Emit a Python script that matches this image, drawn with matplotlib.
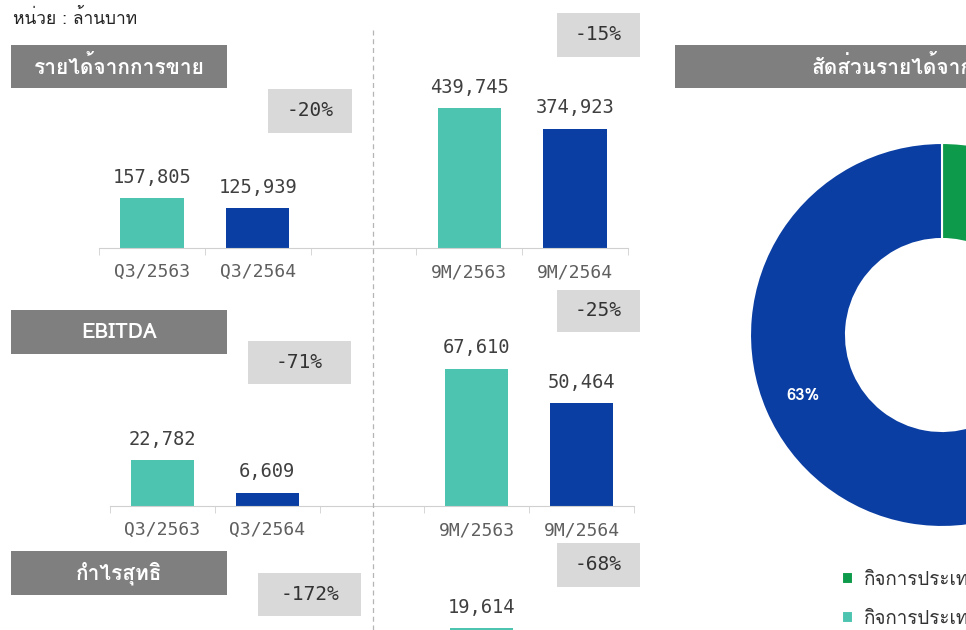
import numpy as np
import matplotlib
matplotlib.use('Agg')
import matplotlib.pyplot as plt
from matplotlib import font_manager
from matplotlib.ft2font import FT2Font
from matplotlib.patches import Rectangle
from matplotlib.lines import Line2D

# data
periods = ['Q3/2563', 'Q3/2564', '9M/2563', '9M/2564']
revenue = [157805, 125939, 439745, 374923]
ebitda = [22782, 6609, 67610, 50464]
net_profit = [5180, -3730, 19614, 6276]
row_titles = ['รายได้จากการขาย', 'EBITDA', 'กำไรสุทธิ']
change_q3 = ['-20%', '-71%', '-172%']
change_9m = ['-15%', '-25%', '-68%']

share_labels = ['กิจการประเทศไทย', 'กิจการประเทศจีน', 'กิจการต่างประเทศอื่นๆ']
share_values = [25, 12, 63]

TEAL = '#4cc4b0'
BLUE = '#0a3ea3'
GREEN = '#0d9a4a'
BAR_GRAY = '#7f7f7f'
BOX_GRAY = '#d9d9d9'


def thai_font():
    # pick the first installed font that has Thai glyphs
    for f in font_manager.fontManager.ttflist:
        try:
            if 0x0E01 in FT2Font(f.fname).get_charmap():
                return f.name
        except Exception:
            pass
    return 'DejaVu Sans'


THAI = [thai_font(), 'DejaVu Sans']
plt.rcParams['font.family'] = THAI

W, H = 966, 630
fig = plt.figure(figsize=(W / 100, H / 100), dpi=100)


def px_axes(x0, y0, x1, y1):
    return fig.add_axes([x0 / W, 1 - y1 / H, (x1 - x0) / W, (y1 - y0) / H])


def px_box(x0, y0, x1, y1, fill, text, **kw):
    fig.add_artist(Rectangle((x0 / W, 1 - y1 / H), (x1 - x0) / W, (y1 - y0) / H,
                             transform=fig.transFigure, color=fill, lw=0))
    fig.text((x0 + x1) / 2 / W, 1 - (y0 + y1) / 2 / H, text,
             ha='center', va='center', **kw)


# layout (pixels)
slots = [0, 1, 3, 4]
row_axes = [(99, 60, 628, 248), (110, 318, 634, 506), (115, 580, 639, 822)]
row_ylim = [(0, 590000), (0, 92450), (-8000, 26400)]
title_boxes = [(11, 45, 227, 88), (11, 310, 227, 354), (11, 551, 227, 595)]
q3_boxes = [(268, 89, 352, 133), (248, 341, 351, 384), (258, 573, 361, 616)]
m9_boxes = [(557, 13, 640, 57), (557, 290, 640, 332), (557, 543, 640, 587)]

for i, vals in enumerate([revenue, ebitda, net_profit]):
    ax = px_axes(*row_axes[i])
    ax.patch.set_alpha(0)
    bars = ax.bar(slots, vals, width=0.6, color=[TEAL, BLUE, TEAL, BLUE])
    ax.bar_label(bars, labels=[f'{v:,}' for v in vals], padding=8,
                 fontsize=13.5, color='#404040', family='DejaVu Sans Mono')
    ax.set_xlim(-0.5, 4.5)
    ax.set_ylim(*row_ylim[i])
    for s in ['top', 'right', 'left']:
        ax.spines[s].set_visible(False)
    ax.spines['bottom'].set_position(('data', 0))
    ax.spines['bottom'].set_color('#d0d0d0')
    ax.set_yticks([])
    ax.set_xticks(slots)
    ax.set_xticklabels(periods, family='DejaVu Sans Mono')
    ax.tick_params(axis='x', length=0, pad=11, labelsize=13, labelcolor='#5f5f5f')
    ax.set_xticks(np.arange(-0.5, 5, 1), minor=True)
    ax.tick_params(axis='x', which='minor', length=5, color='#d0d0d0')

    px_box(*title_boxes[i], BAR_GRAY, row_titles[i], color='white',
           fontsize=15, fontweight='bold')
    px_box(*q3_boxes[i], BOX_GRAY, change_q3[i], color='#333333',
           fontsize=14, family='DejaVu Sans Mono')
    px_box(*m9_boxes[i], BOX_GRAY, change_9m[i], color='#333333',
           fontsize=14, family='DejaVu Sans Mono')

# dashed divider
fig.add_artist(Line2D([372.5 / W] * 2, [1 - 30 / H, 0], transform=fig.transFigure,
                      color='#b5b5b5', lw=0.9, ls=(0, (4, 3))))

fig.text(13 / W, 1 - 18 / H, 'หน่วย : ล้านบาท', fontsize=12.5, va='center', color='#222222')

# donut
fig.add_artist(Rectangle((675 / W, 1 - 88 / H), 330 / W, 43 / H,
                         transform=fig.transFigure, color=BAR_GRAY, lw=0))
fig.text(812 / W, 1 - 66 / H, 'สัดส่วนรายได้จากการขาย', ha='left', va='center',
         color='white', fontsize=15, fontweight='bold')

pax = px_axes(750, 143, 1134, 527)
wedges, _, autotexts = pax.pie(share_values, colors=[GREEN, TEAL, BLUE], startangle=90,
                               counterclock=False, radius=1, autopct='%.0f%%',
                               pctdistance=0.79,
                               wedgeprops=dict(width=0.5, edgecolor='white', linewidth=1.5),
                               textprops=dict(color='white', fontsize=12, fontweight='bold'))
pax.set_xlim(-1, 1)
pax.set_ylim(-1, 1)

fig.legend(wedges, share_labels, loc='upper left', bbox_to_anchor=(825 / W, 1 - 554 / H),
           frameon=False, fontsize=13.5, handlelength=0.6, handleheight=0.6,
           labelspacing=1.1, handletextpad=0.6, labelcolor='#333333')

fig.savefig('out.png', dpi=100, facecolor='white')
